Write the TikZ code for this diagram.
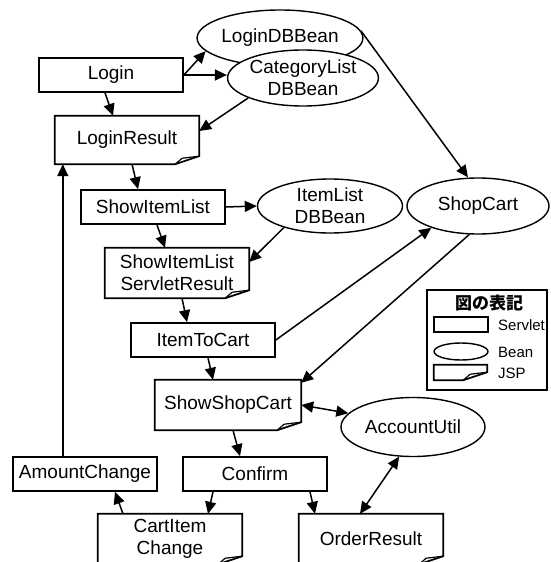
\documentclass[tikz,border=0pt]{standalone}
\usepackage{fontspec}
\setmainfont{Liberation Sans}
\newfontfamily\jpfont{Noto Sans CJK JP}
\usetikzlibrary{shapes.geometric,arrows.meta,calc}

% outline of a JSP page (folded corner at the bottom right)
\newcommand{\jspframe}[1]{%
  \draw[line width=1.7pt] (#1.north west) -- (#1.north east)
    -- ($(#1.south east)+(0,-8)$) -- ($(#1.south east)+(-24,0)$) -- (#1.south west) -- cycle;
  \draw[line width=1.2pt] ($(#1.south east)+(-24,0)$) -- ($(#1.south east)+(-17,-6)$) -- ($(#1.south east)+(0,-8)$);}

\begin{document}
\begin{tikzpicture}[x=1pt,y=1pt,yscale=-1,
  txt/.style={font=\fontsize{19}{22}\selectfont,align=center,inner sep=0pt},
  servlet/.style={txt,draw,line width=1.7pt,minimum width=144pt,minimum height=34pt},
  jsp/.style={txt,minimum width=144pt,minimum height=50pt},
  bean/.style={txt,ellipse,draw,fill=white,line width=1.4pt,minimum width=145pt,minimum height=56pt},
  arr/.style={line width=1.5pt,-{Triangle[length=12pt,width=11pt]}},
  biarr/.style={line width=1.5pt,{Triangle[length=12pt,width=11pt]}-{Triangle[length=12pt,width=11pt]}},
  small/.style={font=\fontsize{15}{15}\selectfont,inner sep=0pt,anchor=west}]
\useasboundingbox (0,0) rectangle (550,562);

% servlets
\node[servlet] (login) at (111,75) {Login};
\node[servlet] (showlist) at (153,207) {ShowItemList};
\node[servlet] (itemtocart) at (203,340) {ItemToCart};
\node[servlet] (amount) at (85,474) {AmountChange};
\node[servlet] (confirm) at (255,474) {Confirm};

% jsp pages
\node[jsp,minimum height=48pt] (loginres) at (127,140) {LoginResult}; \jspframe{loginres}
\node[jsp] (showres) at (177,273) {ShowItemList\\ServletResult}; \jspframe{showres}
\node[jsp,minimum width=146pt] (showcart) at (228,405) {ShowShopCart}; \jspframe{showcart}
\node[jsp] (cartchg) at (170,539) {CartItem\\Change}; \jspframe{cartchg}
\node[jsp] (order) at (371,539) {OrderResult}; \jspframe{order}

% beans
\node[bean] (logindb) at (280,38) {LoginDBBean};
\node[bean] (catdb) at (303,78) {CategoryList\\DBBean};
\node[bean,minimum height=54pt] (itemdb) at (330,206) {ItemList\\DBBean};
\node[bean,minimum width=142pt] (shopcart) at (478,206) {ShopCart};
\node[bean,minimum width=144pt,minimum height=59pt] (accutil) at (413,427) {AccountUtil};

% connectors
\draw[arr] (login.east) -- (logindb.190);
\draw[arr] (login.east) -- (login.east -| catdb.west);
\draw[arr] ($(login.south)+(-6,0)$) -- ($(loginres.north)+(-14,0)$);
\draw[arr] (catdb.200) -- ($(loginres.east)+(0,-9)$);
\draw[arr] (logindb.5) -- ($(shopcart.north)+(-10,0)$);
\draw[arr] ($(loginres.south)+(5,0)$) -- ($(showlist.north)+(-15,0)$);
\draw[arr] (showlist.east) -- (itemdb.west);
\draw[arr] ($(showlist.south)+(4,0)$) -- ($(showres.north)+(-12,0)$);
\draw[arr] (itemdb.205) -- ($(showres.east)+(0,-11)$);
\draw[arr] ($(showres.south)+(5,0)$) -- ($(itemtocart.north)+(-16,0)$);
\draw[arr] (itemtocart.east) -- (shopcart.205);
\draw[arr] (shopcart.253) -- ($(showcart.north east)+(0,3)$);
\draw[arr] ($(itemtocart.south)+(5,0)$) -- ($(showcart.north)+(-15,0)$);
\draw[biarr] (showcart.east) -- (accutil.168);
\draw[arr] ($(showcart.south)+(5,0)$) -- ($(confirm.north)+(-15,0)$);
\coordinate (back) at ($(loginres.south west)+(8,0)$);
\draw[arr] (back |- amount.north) -- (back);
\draw[arr] ($(cartchg.north)+(-47,0)$) -- ($(amount.south)+(30,0)$);
\draw[arr] ($(confirm.south)+(-42,0)$) -- ($(cartchg.north)+(38,0)$);
\draw[arr] ($(confirm.south)+(55,0)$) -- ($(order.north)+(-56,0)$);
\draw[biarr] (accutil.245) -- ($(order.north)+(-11,0)$);

% legend
\node[draw,line width=1.7pt,minimum width=120pt,minimum height=100pt] (legend) at (487,340) {};
\node[font=\jpfont\bfseries\fontsize{17}{17}\selectfont,inner sep=0pt] (lgtitle) at (489,303) {図の表記};
\node[servlet,minimum width=54pt,minimum height=15pt] (lgservlet) at (461,324.5) {};
\node[small] at (498,325) {Servlet};
\node[bean,minimum width=54pt,minimum height=17pt] (lgbean) at (461,351.5) {};
\node[small] at (498,352) {Bean};
\node[jsp,minimum width=53pt,minimum height=15pt] (lgjsp) at (460.5,372.5) {}; \jspframe{lgjsp}
\node[small] at (498,373) {JSP};
\end{tikzpicture}
\end{document}
